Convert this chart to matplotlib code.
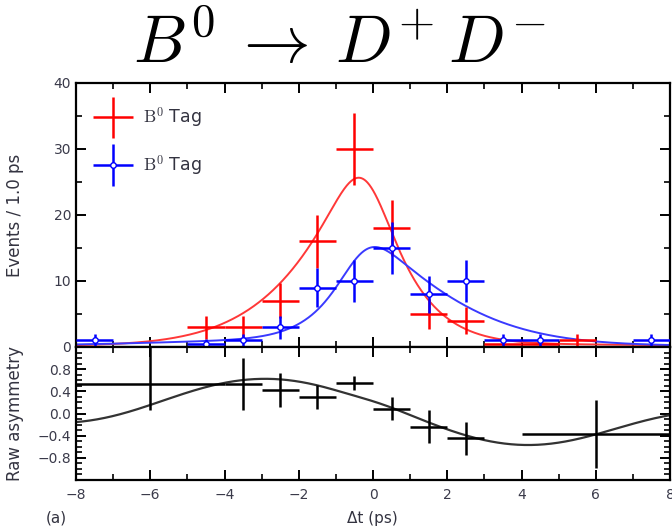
import numpy as np
import matplotlib
matplotlib.use("Agg")
import matplotlib.pyplot as plt
from matplotlib.ticker import MultipleLocator, FixedLocator, FixedFormatter
from matplotlib.container import ErrorbarContainer
from matplotlib.legend_handler import HandlerErrorbar

plt.rcParams["mathtext.fontset"] = "cm"
plt.rcParams["font.family"] = ["Liberation Sans Narrow", "DejaVu Sans"]

# ---------------- data ----------------
b0_dt = [-4.5, -3.5, -2.5, -1.5, -0.5, 0.5, 1.5, 2.5, 3.5, 4.5, 5.5]
b0_counts = [3, 3, 7, 16, 30, 18, 5, 4, 0.5, 0.5, 1]

b0bar_dt = [-7.5, -4.5, -3.5, -2.5, -1.5, -0.5, 0.5, 1.5, 2.5, 3.5, 4.5, 7.5]
b0bar_counts = [1, 0.5, 1, 3, 9, 10, 15, 8, 10, 1, 1, 1]

bin_half_width = 0.5

asym_dt = [-6, -3.5, -2.5, -1.5, -0.5, 0.5, 1.5, 2.5, 6]
asym_dt_lo = [2, 0.5, 0.5, 0.5, 0.5, 0.5, 0.5, 0.5, 2]
asym_dt_hi = [2, 0.5, 0.5, 0.5, 0.5, 0.5, 0.5, 0.5, 2]
asym_val = [0.53, 0.54, 0.42, 0.30, 0.55, 0.09, -0.24, -0.45, -0.37]
asym_err_lo = [0.47, 0.48, 0.31, 0.22, 0.13, 0.20, 0.30, 0.30, 0.61]
asym_err_hi = [0.75, 0.47, 0.31, 0.22, 0.13, 0.20, 0.30, 0.30, 0.61]

# fit-model parameters (time-dependent CP fit drawn as curves)
TAU = 1.52          # ps, B0 lifetime
DELTA_M = 0.426     # 1/ps
S_CP = -0.853
A_CP = 0.388
DILUTION = 0.711
SIGMA_RES = 0.45    # ps, resolution
N_SIG = 150.0
N_BKG = 62.0
TAU_BKG = 78.0      # ps, broad background
T_OFFSET = -0.234   # ps
BIN_WIDTH = 1.0

xticks = [-8, -6, -4, -2, 0, 2, 4, 6, 8]
asym_ticks = [-0.8, -0.4, 0.0, 0.4, 0.8]
asym_ticklabels = ["\u22120.8", "\u22120.4", "0.0", "0.4", "0.8"]

# ---------------- model curves ----------------
dt_step = 0.01
t = np.arange(-20, 20 + dt_step / 2, dt_step)
tt = t - T_OFFSET


def raw_pdf(q):
    sig = (N_SIG / 2.0) * np.exp(-np.abs(tt) / TAU) / (2 * TAU) * (
        1 + q * DILUTION * (S_CP * np.sin(DELTA_M * tt) + A_CP * np.cos(DELTA_M * tt)))
    bkg = (N_BKG / 2.0) * np.exp(-np.abs(tt) / TAU_BKG) / (2 * TAU_BKG)
    return BIN_WIDTH * (sig + bkg)


s = np.arange(-6 * SIGMA_RES, 6 * SIGMA_RES + dt_step / 2, dt_step)
kern = np.exp(-0.5 * (s / SIGMA_RES) ** 2)
kern /= kern.sum()
f_b0 = np.convolve(raw_pdf(+1), kern, mode="same")
f_b0bar = np.convolve(raw_pdf(-1), kern, mode="same")
asym_curve = (f_b0 - f_b0bar) / (f_b0 + f_b0bar)
sel = (t >= -8.2) & (t <= 8.2)

# ---------------- figure ----------------
W, H = 672, 530
fig = plt.figure(figsize=(W / 100, H / 100), dpi=100)
L, R = 76, 670
ax1 = fig.add_axes([L / W, 1 - 347 / H, (R - L) / W, (347 - 83) / H])
ax2 = fig.add_axes([L / W, 1 - 480 / H, (R - L) / W, (480 - 347) / H], sharex=ax1)

tick_col = "#3a3a4a"
lab_col = "#333340"
for ax in (ax1, ax2):
    for sp in ax.spines.values():
        sp.set_linewidth(1.6)
    ax.tick_params(which="both", direction="in", top=True, right=True,
                   colors="black", labelcolor=tick_col, labelsize=10)
    ax.tick_params(which="major", length=7, width=1.4)
    ax.tick_params(which="minor", length=4, width=1.2)

# top panel
ax1.plot(t[sel], f_b0[sel], color="#ff3838", lw=1.4, zorder=2)
ax1.plot(t[sel], f_b0bar[sel], color="#3a3aff", lw=1.4, zorder=2)
eb_r = ax1.errorbar(b0_dt, b0_counts, xerr=bin_half_width, yerr=np.sqrt(b0_counts),
                    fmt="none", ecolor="#ff0000", elinewidth=1.8, capsize=0, zorder=3,
                    label=r"$\mathrm{B}^0$ Tag")
eb_b = ax1.errorbar(b0bar_dt, b0bar_counts, xerr=bin_half_width, yerr=np.sqrt(b0bar_counts),
                    fmt="o", ms=4, mfc="white", mec="#0000ff", mew=1.0, color="#0000ff",
                    ecolor="#0000ff", elinewidth=1.8, capsize=0, zorder=4,
                    label=r"$\mathrm{B}^0$ Tag")
ax1.set_xlim(-8, 8)
ax1.set_ylim(0, 40)
ax1.yaxis.set_major_locator(MultipleLocator(10))
ax1.yaxis.set_minor_locator(MultipleLocator(5))
ax1.xaxis.set_major_locator(FixedLocator(xticks))
ax1.xaxis.set_minor_locator(MultipleLocator(1))
ax1.tick_params(labelbottom=False)
ax1.set_ylabel("Events / 1.0 ps", fontsize=12, color=lab_col)

leg = ax1.legend(handles=[eb_r, eb_b], loc="upper left", bbox_to_anchor=(0.017, 0.94),
                 frameon=False, fontsize=12.5, handlelength=2.3, handleheight=0.7,
                 handletextpad=0.55, labelspacing=1.35, borderaxespad=0.0, borderpad=0.4,
                 handler_map={ErrorbarContainer: HandlerErrorbar(xerr_size=1.15, yerr_size=1.2)})
for txt in leg.get_texts():
    txt.set_color(lab_col)

# bottom panel
ax2.plot(t[sel], asym_curve[sel], color="#333333", lw=1.6, zorder=2)
ax2.errorbar(asym_dt, asym_val, xerr=[asym_dt_lo, asym_dt_hi],
             yerr=[asym_err_lo, asym_err_hi], fmt="none", ecolor="black",
             elinewidth=1.8, capsize=0, zorder=3)
ax2.set_ylim(-1.2, 1.2)
ax2.yaxis.set_major_locator(FixedLocator(asym_ticks))
ax2.yaxis.set_major_formatter(FixedFormatter(asym_ticklabels))
ax2.yaxis.set_minor_locator(MultipleLocator(0.1))
ax2.set_xticks(xticks)
ax2.set_xticklabels([("\u2212%d" % -v) if v < 0 else "%d" % v for v in xticks])
ax2.set_ylabel("Raw asymmetry", fontsize=12, color=lab_col)
ax2.tick_params(axis="x", pad=6)

ax1.yaxis.set_label_coords(-0.088, 0.5)
ax2.yaxis.set_label_coords(-0.088, 0.5)

fig.text(0.505, 1 - 63 / H, r"$B^{0}\:\rightarrow\:D^{+}\,D^{-}$", fontsize=48,
         ha="center", va="baseline", color="black")
fig.text(56 / W, 1 - 518 / H, "(a)", fontsize=11, color=lab_col, ha="center", va="center")
fig.text(372 / W, 1 - 518 / H, "\u0394t (ps)", fontsize=11, color=lab_col,
         ha="center", va="center")

fig.savefig("out.png", dpi=100)
